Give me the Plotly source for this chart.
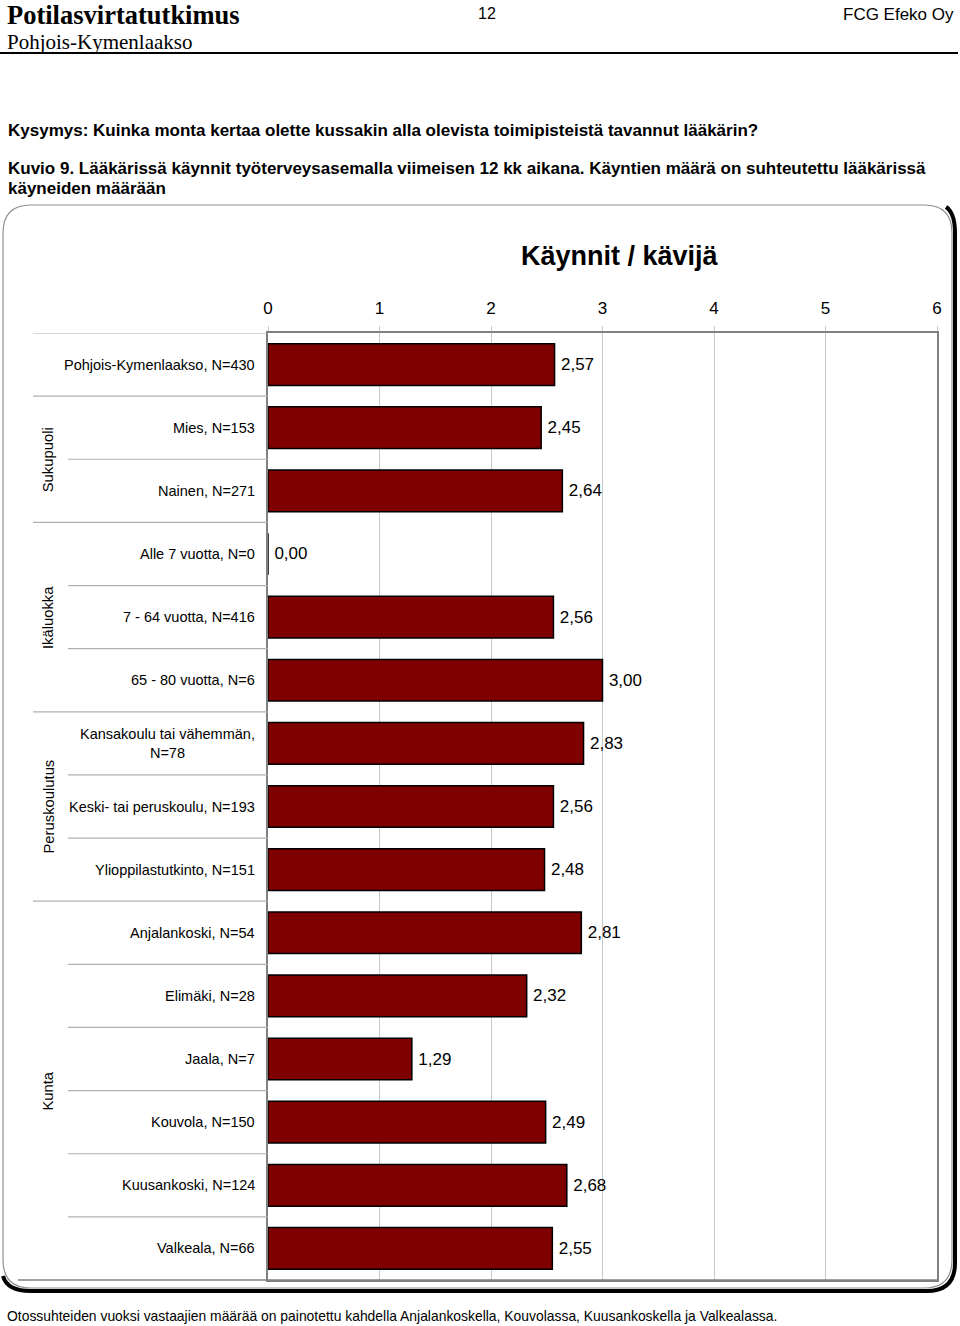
import plotly.graph_objects as go

categories = ["Pohjois-Kymenlaakso, N=430", "Mies, N=153", "Nainen, N=271",
              "Alle 7 vuotta, N=0", "7 - 64 vuotta, N=416", "65 - 80 vuotta, N=6",
              "Kansakoulu tai vähemmän,<br>N=78", "Keski- tai peruskoulu, N=193",
              "Ylioppilastutkinto, N=151", "Anjalankoski, N=54", "Elimäki, N=28",
              "Jaala, N=7", "Kouvola, N=150", "Kuusankoski, N=124", "Valkeala, N=66"]
values = [2.57, 2.45, 2.64, 0.00, 2.56, 3.00, 2.83, 2.56, 2.48, 2.81, 2.32, 1.29, 2.49, 2.68, 2.55]
groups = [("Sukupuoli", 1, 2), ("Ikäluokka", 3, 5), ("Peruskoulutus", 6, 8), ("Kunta", 9, 14)]
tick_vals = [0, 1, 2, 3, 4, 5, 6]

W, H = 960, 1326
L, R, T, B = 268, 937, 333, 1280
PW, PH = R - L, B - T


def xp(px):
    return (px - L) / PW


def yp(py):
    return (B - py) / PH


SANS = "Liberation Sans, Arial"
SERIF = "Liberation Serif, Times New Roman, serif"

idx = list(range(len(categories)))
labels = ["\u2009" + f"{v:.2f}".replace(".", ",") for v in values]

fig = go.Figure(go.Bar(
    x=values, y=idx, orientation="h", width=0.66,
    marker=dict(color="#7f0000", line=dict(color="#000000", width=1.5)),
    text=labels, textposition="outside", cliponaxis=False,
    textfont=dict(family=SANS, size=17, color="#000"),
    hoverinfo="skip",
))

annotations = []
shapes = []

for i, c in enumerate(categories):
    annotations.append(dict(xref="paper", yref="y", x=xp(257), y=i, text=c,
                            xanchor="right", yanchor="middle", align="center",
                            showarrow=False,
                            font=dict(family=SANS, size=14.5, color="#000")))

for name, a, b in groups:
    annotations.append(dict(xref="paper", yref="y", x=xp(48), y=(a + b) / 2, text=name,
                            textangle=-90, xanchor="center", yanchor="middle",
                            showarrow=False,
                            font=dict(family=SANS, size=14.8, color="#000")))

group_starts = {0, 1} | {a for _, a, _ in groups}
for k in range(len(categories)):
    x0 = 33 if k in group_starts else 68
    shapes.append(dict(type="line", xref="paper", yref="y", x0=xp(x0), x1=0,
                       y0=k - 0.5, y1=k - 0.5, line=dict(color="#b0b0b0", width=1.2)))
shapes.append(dict(type="line", xref="paper", yref="paper", x0=xp(18), x1=1,
                   y0=0, y1=0, line=dict(color="#808080", width=1.5)))

fx0, fy0, fx1, fy1, r = 3, 205, 952, 1288, 28


def P(x, y):
    return f"{xp(x):.5f},{yp(y):.5f}"


frame = (f"M {P(fx0 + r, fy0)} L {P(fx1 - r, fy0)} Q {P(fx1, fy0)} {P(fx1, fy0 + r)} "
         f"L {P(fx1, fy1 - r)} Q {P(fx1, fy1)} {P(fx1 - r, fy1)} L {P(fx0 + r, fy1)} "
         f"Q {P(fx0, fy1)} {P(fx0, fy1 - r)} L {P(fx0, fy0 + r)} Q {P(fx0, fy0)} {P(fx0 + r, fy0)} Z")
shapes.append(dict(type="path", xref="paper", yref="paper", path=frame,
                   line=dict(color="#909090", width=1.2)))
sx, sy = 3, 3
shadow = (f"M {P(fx1 - 6, fy0 + 2)} Q {P(fx1 + sx, fy0 + 8)} {P(fx1 + sx, fy0 + r)} "
          f"L {P(fx1 + sx, fy1 - r + sy)} "
          f"Q {P(fx1 + sx, fy1 + sy)} {P(fx1 - r + sx, fy1 + sy)} "
          f"L {P(fx0 + r, fy1 + sy)} Q {P(fx0 + 4, fy1 + sy)} {P(fx0, fy1 - 12)}")
shapes.append(dict(type="path", xref="paper", yref="paper", path=shadow,
                   line=dict(color="#000000", width=4)))

shapes.append(dict(type="line", xref="paper", yref="paper", x0=xp(0), x1=xp(958),
                   y0=yp(53), y1=yp(53), line=dict(color="#000", width=2)))


def txt(x, y, s, size, family=SANS, anchor="left", bold=False):
    if bold:
        s = f"<b>{s}</b>"
    annotations.append(dict(xref="paper", yref="paper", x=xp(x), y=yp(y), text=s,
                            xanchor=anchor, yanchor="middle", showarrow=False,
                            font=dict(family=family, size=size, color="#000")))


txt(5, 15, "Potilasvirtatutkimus", 26.5, SERIF, bold=True)
txt(5, 42, "Pohjois-Kymenlaakso", 21, SERIF)
txt(487, 13, "12", 16, SANS, anchor="center")
txt(956, 14, "FCG Efeko Oy", 17, SANS, anchor="right")
txt(6, 130, "Kysymys: Kuinka monta kertaa olette kussakin alla olevista toimipisteistä tavannut lääkärin?", 17, SANS, bold=True)
txt(6, 168, "Kuvio 9. Lääkärissä käynnit työterveysasemalla viimeisen 12 kk aikana. Käyntien määrä on suhteutettu lääkärissä", 17, SANS, bold=True)
txt(6, 189, "käyneiden määrään", 17, SANS, bold=True)
txt(620, 256, "Käynnit / kävijä", 27, SANS, anchor="center", bold=True)
txt(5, 1316, "Otossuhteiden vuoksi vastaajien määrää on painotettu kahdella Anjalankoskella, Kouvolassa, Kuusankoskella ja Valkealassa.", 13.9, SANS)

fig.update_layout(
    width=W, height=H,
    margin=dict(l=L, r=W - R, t=T, b=H - B),
    plot_bgcolor="white", paper_bgcolor="white",
    showlegend=False,
    annotations=annotations, shapes=shapes,
    xaxis=dict(side="top", range=[0, 6], tickvals=tick_vals, showgrid=True,
               gridcolor="#c8c8c8", gridwidth=1, zeroline=False,
               showline=True, linecolor="#808080", linewidth=1.5, mirror=True,
               ticks="outside", ticklen=5, tickcolor="#c8c8c8",
               ticklabelstandoff=5,
               tickfont=dict(family=SANS, size=17, color="#000")),
    yaxis=dict(range=[len(categories) - 0.5, -0.5], showticklabels=False,
               showgrid=False, zeroline=False, showline=True, linecolor="#808080",
               linewidth=1.5, mirror=True, ticks=""),
    bargap=0.34,
)

fig.write_html("out.html", config={"displayModeBar": False},
               post_script="document.body.style.margin='0';document.body.style.overflow='hidden';")
